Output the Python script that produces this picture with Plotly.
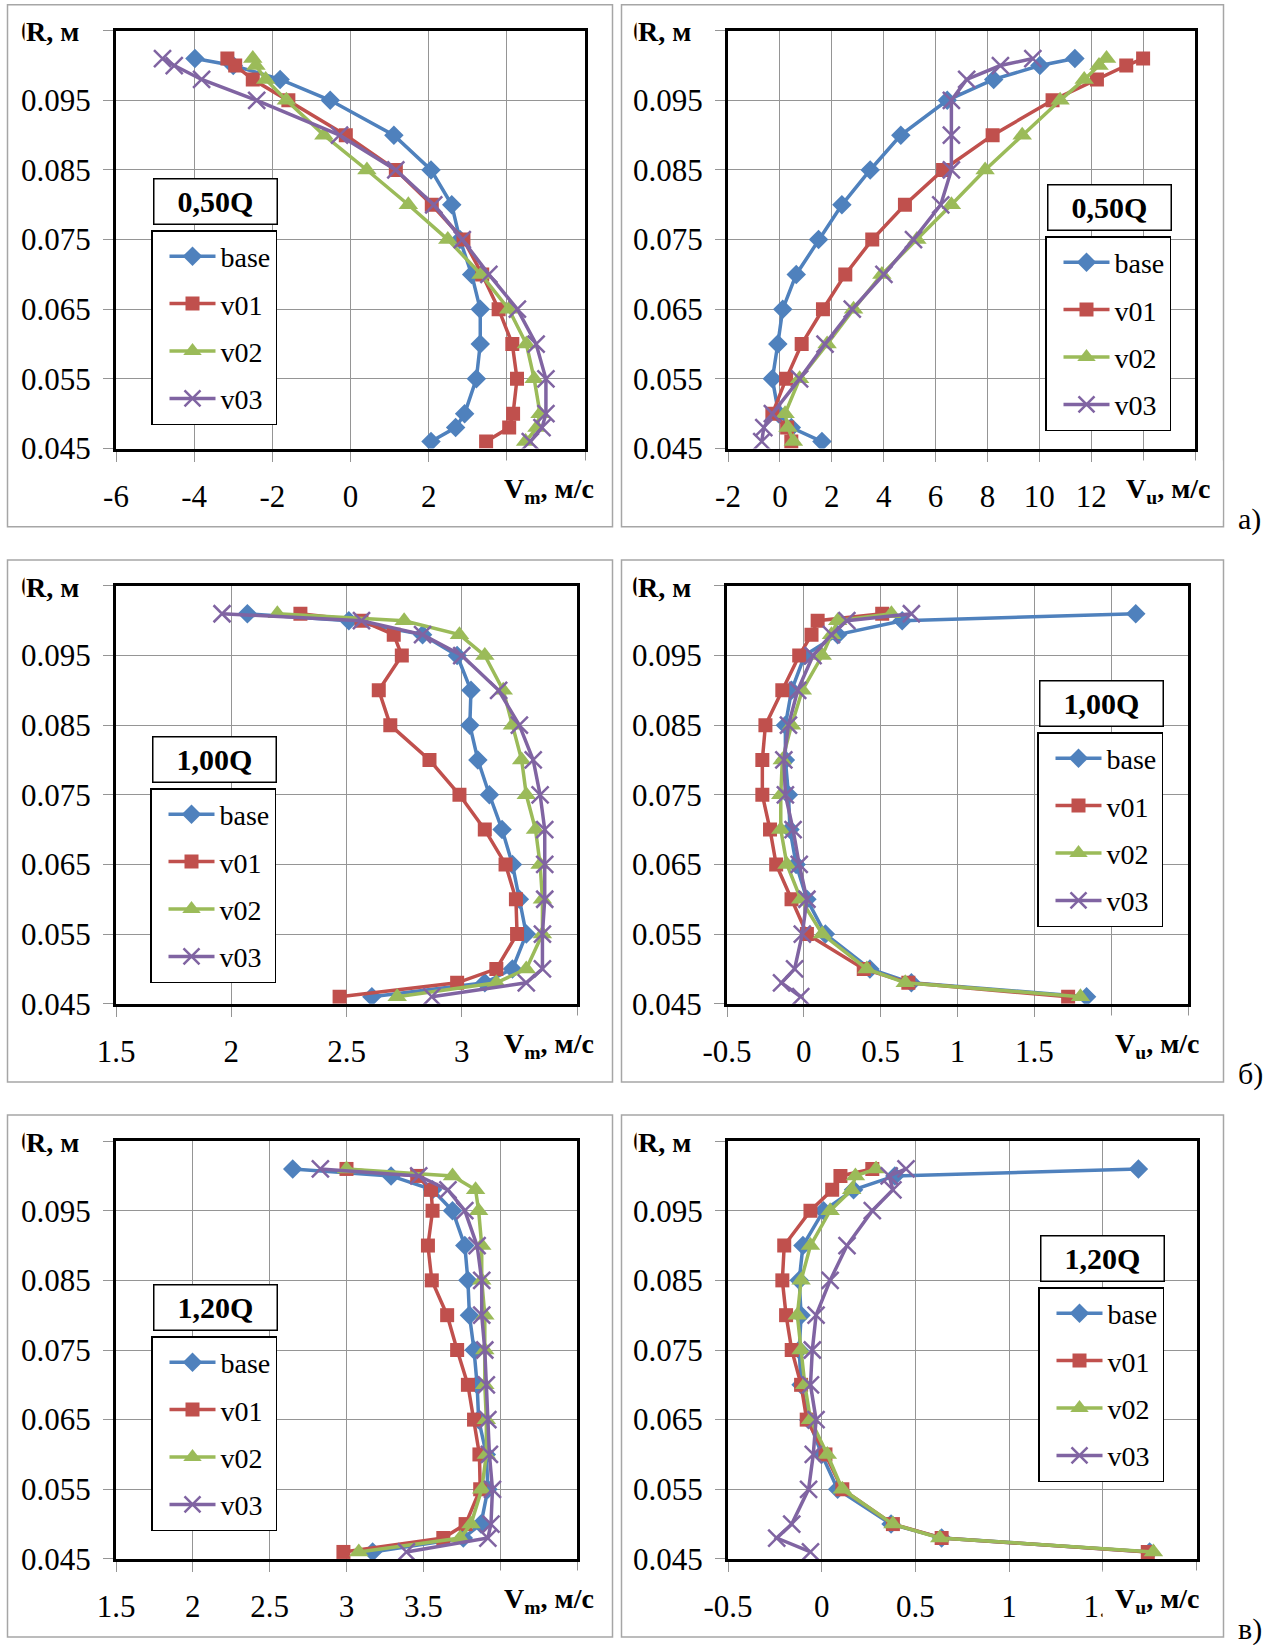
import plotly.graph_objects as go

W, H = 1277, 1645

# ---------------- data ----------------
R = [0.046, 0.048, 0.050, 0.055, 0.060, 0.065, 0.070, 0.075, 0.080, 0.085, 0.090, 0.095, 0.098, 0.100, 0.101]
series_names = ["base", "v01", "v02", "v03"]

# a) 0,50Q
vm_a_base = [2.06, 2.69, 2.92, 3.22, 3.32, 3.32, 3.10, 2.80, 2.59, 2.06, 1.11, -0.52, -1.80, -3.00, -3.98]
vm_a_v01 = [3.47, 4.06, 4.16, 4.26, 4.14, 3.79, 3.37, 2.89, 2.08, 1.16, -0.12, -1.59, -2.50, -2.95, -3.15]
vm_a_v02 = [4.48, 4.77, 4.85, 4.70, 4.50, 4.05, 3.34, 2.49, 1.48, 0.42, -0.68, -1.64, -2.17, -2.42, -2.50]
vm_a_v03 = [4.60, 4.90, 5.00, 5.00, 4.75, 4.27, 3.54, 2.86, 2.13, 1.16, -0.28, -2.40, -3.81, -4.51, -4.81]

vu_a_base = [1.62, 0.44, -0.05, -0.29, -0.08, 0.11, 0.63, 1.49, 2.39, 3.48, 4.66, 6.45, 8.24, 10.02, 11.37]
vu_a_v01 = [0.44, 0.28, -0.29, 0.24, 0.84, 1.66, 2.52, 3.56, 4.82, 6.29, 8.20, 10.51, 12.22, 13.35, 14.00]
vu_a_v02 = [0.52, 0.31, 0.20, 0.76, 1.82, 2.84, 3.93, 5.28, 6.61, 7.91, 9.34, 10.80, 11.73, 12.30, 12.59]
vu_a_v03 = [-0.70, -0.62, -0.29, 0.76, 1.74, 2.79, 4.01, 5.15, 6.20, 6.61, 6.61, 6.61, 7.20, 8.50, 9.75]

# б) 1,00Q
vm_b_base = [2.61, 3.10, 3.22, 3.28, 3.25, 3.22, 3.175, 3.12, 3.07, 3.035, 3.04, 2.98, 2.83, 2.51, 2.07]
vm_b_v01 = [2.47, 2.98, 3.15, 3.24, 3.235, 3.19, 3.10, 2.99, 2.86, 2.69, 2.64, 2.74, 2.705, 2.565, 2.30]
vm_b_v02 = [2.72, 3.15, 3.28, 3.35, 3.35, 3.34, 3.32, 3.28, 3.26, 3.22, 3.18, 3.10, 2.99, 2.75, 2.20]
vm_b_v03 = [2.87, 3.28, 3.35, 3.35, 3.36, 3.36, 3.36, 3.34, 3.31, 3.25, 3.16, 3.00, 2.83, 2.565, 1.96]

vu_b_base = [1.84, 0.70, 0.43, 0.14, 0.02, -0.05, -0.09, -0.10, -0.12, -0.12, -0.08, 0.005, 0.22, 0.64, 2.16]
vu_b_v01 = [1.72, 0.68, 0.39, 0.02, -0.08, -0.18, -0.22, -0.27, -0.27, -0.25, -0.14, -0.03, 0.05, 0.09, 0.51]
vu_b_v02 = [1.80, 0.66, 0.41, 0.12, -0.02, -0.11, -0.15, -0.15, -0.14, -0.08, -0.01, 0.12, 0.18, 0.22, 0.57]
vu_b_v03 = [-0.02, -0.145, -0.06, -0.01, 0.02, -0.03, -0.07, -0.12, -0.13, -0.10, -0.04, 0.06, 0.18, 0.28, 0.70]

# в) 1,20Q
vm_c_base = [3.17, 3.76, 3.875, 3.92, 3.91, 3.86, 3.85, 3.83, 3.80, 3.79, 3.77, 3.69, 3.56, 3.29, 2.65]
vm_c_v01 = [2.98, 3.63, 3.775, 3.87, 3.865, 3.83, 3.79, 3.72, 3.655, 3.555, 3.53, 3.56, 3.55, 3.46, 3.00]
vm_c_v02 = [3.08, 3.74, 3.81, 3.88, 3.91, 3.91, 3.90, 3.90, 3.90, 3.88, 3.88, 3.86, 3.84, 3.69, 3.00]
vm_c_v03 = [3.39, 3.92, 3.94, 3.95, 3.93, 3.92, 3.91, 3.90, 3.88, 3.88, 3.85, 3.77, 3.66, 3.47, 2.83]

vu_c_base = [1.75, 0.64, 0.37, 0.085, 0.0, -0.07, -0.11, -0.12, -0.11, -0.12, -0.10, 0.01, 0.17, 0.39, 1.69]
vu_c_v01 = [1.74, 0.64, 0.38, 0.11, 0.02, -0.08, -0.11, -0.16, -0.19, -0.21, -0.20, -0.06, 0.056, 0.10, 0.27]
vu_c_v02 = [1.77, 0.63, 0.38, 0.11, 0.03, -0.06, -0.09, -0.11, -0.13, -0.11, -0.06, 0.045, 0.16, 0.18, 0.29]
vu_c_v03 = [-0.06, -0.24, -0.16, -0.07, -0.045, -0.03, -0.06, -0.05, -0.03, 0.045, 0.135, 0.27, 0.38, 0.36, 0.45]

# tick labels
y_ticks = [0.045, 0.055, 0.065, 0.075, 0.085, 0.095, 0.105]
y_tick_labels = ["0.045", "0.055", "0.065", "0.075", "0.085", "0.095", "0.105"]
x_ticks_a_vm = [-6, -4, -2, 0, 2, 4, 6]
x_labels_a_vm = ["-6", "-4", "-2", "0", "2", "4", "6"]
x_ticks_a_vu = [-2, 0, 2, 4, 6, 8, 10, 12, 14, 16]
x_labels_a_vu = ["-2", "0", "2", "4", "6", "8", "10", "12", "14", "16"]
x_ticks_b_vm = [1.5, 2, 2.5, 3, 3.5]
x_labels_b_vm = ["1.5", "2", "2.5", "3", "3.5"]
x_ticks_b_vu = [-0.5, 0, 0.5, 1, 1.5, 2, 2.5]
x_labels_b_vu = ["-0.5", "0", "0.5", "1", "1.5", "2", "2.5"]
x_ticks_c_vm = [1.5, 2, 2.5, 3, 3.5, 4, 4.5]
x_labels_c_vm = ["1.5", "2", "2.5", "3", "3.5", "4", "4.5"]
x_ticks_c_vu = [-0.5, 0, 0.5, 1, 1.5, 2]
x_labels_c_vu = ["-0.5", "0", "0.5", "1", "1.5", "2"]

regime_labels = ["0,50Q", "1,00Q", "1,20Q"]
row_labels = ["а)", "б)", "в)"]

# ---------------- styling ----------------
FONT = "Liberation Serif"
colors = ["#4F81BD", "#C0504D", "#9BBB59", "#8064A2"]
symbols = ["diamond", "square", "triangle-up", "x-thin"]
msizes = [15, 14, 17, 17]
GRID = "#959595"

def px_x(p):
    return p / W

def px_y(p):
    return 1 - p / H

ROW_DY = 555.2
panels = [
    dict(row=0, col=0, xp=(116, 585), xr=(-6, 6), xt=x_ticks_a_vm, xl=x_labels_a_vm,
         data=[vm_a_base, vm_a_v01, vm_a_v02, vm_a_v03], sub="m", leg=(151, 178), tx=503),
    dict(row=0, col=1, xp=(728, 1195), xr=(-2, 16), xt=x_ticks_a_vu, xl=x_labels_a_vu,
         data=[vu_a_base, vu_a_v01, vu_a_v02, vu_a_v03], sub="u", leg=(1045, 184), tx=1125),
    dict(row=1, col=0, xp=(116, 577), xr=(1.5, 3.5), xt=x_ticks_b_vm, xl=x_labels_b_vm,
         data=[vm_b_base, vm_b_v01, vm_b_v02, vm_b_v03], sub="m", leg=(150, 736), tx=503),
    dict(row=1, col=1, xp=(727, 1188), xr=(-0.5, 2.5), xt=x_ticks_b_vu, xl=x_labels_b_vu,
         data=[vu_b_base, vu_b_v01, vu_b_v02, vu_b_v03], sub="u", leg=(1037, 680), tx=1114),
    dict(row=2, col=0, xp=(116, 577), xr=(1.5, 4.5), xt=x_ticks_c_vm, xl=x_labels_c_vm,
         data=[vm_c_base, vm_c_v01, vm_c_v02, vm_c_v03], sub="m", leg=(151, 1284), tx=503),
    dict(row=2, col=1, xp=(728, 1196.5), xr=(-0.5, 2.0), xt=x_ticks_c_vu, xl=x_labels_c_vu,
         data=[vu_c_base, vu_c_v01, vu_c_v02, vu_c_v03], sub="u", leg=(1038, 1235), tx=1114),
]

fig = go.Figure()
layout = {}
annotations = []
shapes = []

for i, p in enumerate(panels):
    n = i + 1
    xa = "xaxis" if n == 1 else f"xaxis{n}"
    ya = "yaxis" if n == 1 else f"yaxis{n}"
    xref = "x" if n == 1 else f"x{n}"
    yref = "y" if n == 1 else f"y{n}"
    lname = "legend" if n == 1 else f"legend{n}"
    top = 30.7 + p["row"] * ROW_DY
    bot = 448.5 + p["row"] * ROW_DY

    for k, name in enumerate(series_names):
        fig.add_trace(go.Scatter(
            x=p["data"][k], y=R, name=name, mode="lines+markers",
            xaxis=xref, yaxis=yref, legend=lname, legendgroup=f"{n}_{name}",
            line=dict(color=colors[k], width=3.5),
            marker=dict(symbol=symbols[k], size=msizes[k], color=colors[k],
                        line=dict(color=colors[k], width=2.5 if k == 3 else 0)),
        ))

    layout[xa] = dict(
        domain=[px_x(p["xp"][0]), px_x(p["xp"][1])], anchor=yref, automargin=False,
        range=list(p["xr"]), tickmode="array", tickvals=p["xt"], ticktext=p["xl"],
        showgrid=True, gridcolor=GRID, gridwidth=1.4, zeroline=False,
        showline=True, linecolor="black", linewidth=3, mirror=True,
        ticks="outside", ticklen=10, tickcolor=GRID, tickwidth=1.4,
        ticklabelstandoff=8,
        tickfont=dict(family=FONT, size=31, color="black"),
    )
    layout[ya] = dict(
        domain=[px_y(bot), px_y(top)], anchor=xref, automargin=False,
        range=[0.045, 0.105], tickmode="array", tickvals=y_ticks, ticktext=y_tick_labels,
        showgrid=True, gridcolor=GRID, gridwidth=1.4, zeroline=False,
        showline=True, linecolor="black", linewidth=3, mirror=True,
        ticks="outside", ticklen=10, tickcolor=GRID, tickwidth=1.4,
        ticklabelstandoff=6,
        tickfont=dict(family=FONT, size=31, color="black"),
    )

    lx, ly = p["leg"]
    # title box above the legend
    annotations.append(dict(
        xref="paper", yref="paper", x=px_x(lx + 2), y=px_y(ly),
        xanchor="left", yanchor="top", showarrow=False,
        text=f"<b>{regime_labels[p['row']]}</b>", width=122, height=44,
        align="center", valign="middle", bgcolor="white",
        bordercolor="black", borderwidth=1.5, borderpad=0,
        font=dict(family=FONT, size=30, color="black"),
    ))
    layout[lname] = dict(
        x=px_x(lx), y=px_y(ly + 52), xanchor="left", yanchor="top",
        bgcolor="white", bordercolor="black", borderwidth=1.5,
        font=dict(family=FONT, size=28, color="black"),
        itemwidth=46, indentation=12, tracegroupgap=8, traceorder="grouped",
        itemclick=False, itemdoubleclick=False,
    )

    # axis title (its white box covers the last tick labels, as in the original)
    annotations.append(dict(
        xref="paper", yref="paper", x=px_x(p["tx"] - 12), y=px_y(490 + p["row"] * ROW_DY),
        xanchor="left", yanchor="middle", showarrow=False, bgcolor="white",
        borderpad=12, text=f"<b>V<sub>{p['sub']}</sub>, м/с</b>",
        font=dict(family=FONT, size=28, color="black"),
    ))
    # R axis label (covers the 0.105 tick label)
    rx = 24 if p["col"] == 0 else 636
    annotations.append(dict(
        xref="paper", yref="paper", x=px_x(rx), y=px_y(32 + p["row"] * ROW_DY),
        xanchor="left", yanchor="middle", showarrow=False, bgcolor="white",
        text="<b>R, м</b>", width=74, align="left",
        font=dict(family=FONT, size=28, color="black"),
    ))

# panel frames and row labels
frames_x = [(7.5, 612.5), (621.5, 1223.5)]
for r in range(3):
    for c in range(2):
        y0 = 4.7 + r * ROW_DY
        shapes.append(dict(type="rect", xref="paper", yref="paper",
                           x0=px_x(frames_x[c][0]), x1=px_x(frames_x[c][1]),
                           y0=px_y(y0), y1=px_y(y0 + 522),
                           line=dict(color="#a6a6a6", width=1.5), layer="below"))
    annotations.append(dict(
        xref="paper", yref="paper", x=px_x(1236), y=px_y(519 + r * ROW_DY),
        xanchor="left", yanchor="middle", showarrow=False,
        text=row_labels[r], font=dict(family=FONT, size=30, color="black"),
    ))

fig.update_layout(
    width=W, height=H, autosize=False,
    margin=dict(l=0, r=0, t=0, b=0, pad=0, autoexpand=False),
    paper_bgcolor="white", plot_bgcolor="white",
    showlegend=True, annotations=annotations, shapes=shapes,
    font=dict(family=FONT, color="black"),
    **layout,
)

fig.write_html(
    "out.html",
    post_script="document.body.style.margin='0px';document.body.style.overflow='hidden';",
)
